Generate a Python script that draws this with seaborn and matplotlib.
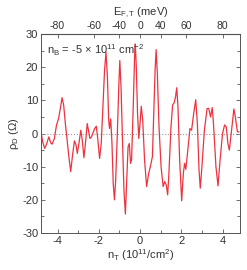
import numpy as np
import matplotlib
matplotlib.use('Agg')
import matplotlib.pyplot as plt
import seaborn as sns
from matplotlib.ticker import MultipleLocator

# data
n_T = [-4.80, -4.72, -4.62, -4.52, -4.42, -4.33, -4.26, -4.15, -4.05, -3.95,
       -3.85, -3.78, -3.70, -3.62, -3.55, -3.45, -3.36, -3.28, -3.18, -3.10,
       -3.04, -2.95, -2.87, -2.80, -2.72, -2.63, -2.56, -2.50, -2.43, -2.35,
       -2.20, -2.12, -2.05, -1.96, -1.88, -1.80, -1.72, -1.65, -1.58, -1.52,
       -1.48, -1.42, -1.36, -1.30, -1.24, -1.18, -1.10, -1.03, -0.98, -0.92,
       -0.85, -0.78, -0.71, -0.65, -0.58, -0.52, -0.46, -0.41, -0.33, -0.26,
       -0.23, -0.18, -0.12, -0.06, 0.00, 0.06, 0.13, 0.22, 0.32, 0.42,
       0.50, 0.60, 0.66, 0.73, 0.78, 0.84, 0.92, 1.02, 1.12, 1.20,
       1.27, 1.34, 1.40, 1.50, 1.58, 1.65, 1.72, 1.78, 1.84, 1.92,
       2.02, 2.10, 2.16, 2.22, 2.30, 2.42, 2.50, 2.60, 2.70, 2.78,
       2.86, 2.92, 3.00, 3.12, 3.25, 3.33, 3.42, 3.50, 3.56, 3.68,
       3.78, 3.88, 4.00, 4.10, 4.18, 4.26, 4.33, 4.42, 4.55, 4.62,
       4.72, 4.80]
rho_D = [0.5, -2.5, -4.5, -3.0, -1.0, -2.8, -3.2, -1.5, 2.5, 4.5,
         8.0, 10.8, 8.5, 3.0, -1.0, -7.0, -11.5, -7.0, -2.2, -3.5,
         -6.0, -2.5, 1.0, -2.0, -7.3, -2.0, 3.0, 1.0, -1.5, -1.0,
         1.5, 2.2, -1.5, -7.5, -3.0, 8.0, 19.0, 24.5, 17.0, 4.0,
         1.5, 4.4, -3.0, -15.0, -20.0, -14.0, 0.0, 14.0, 22.0, 14.0,
         -2.0, -17.0, -24.3, -15.0, -4.0, -3.0, -9.0, -8.0, 8.0, 24.0,
         27.0, 20.0, 6.0, -1.5, 3.0, 8.2, 4.0, -8.0, -16.0, -12.0,
         -10.0, -7.0, 5.0, 19.0, 25.3, 18.0, 2.0, -10.0, -16.0, -14.5,
         -15.5, -18.5, -12.0, 2.0, 8.6, 9.2, 11.0, 13.8, 8.0, -8.0,
         -20.3, -12.0, -9.0, -10.8, -6.0, 1.5, 1.0, 6.0, 10.2, 3.0,
         -11.0, -16.5, -10.0, 1.0, 7.5, 7.6, 5.0, 7.8, 3.0, -10.0,
         -15.8, -8.0, 0.0, 2.6, 2.0, -3.0, -5.0, 0.0, 7.4, 5.0,
         0.5, 0.5]
E_ticks = [-80, -60, -40, 0, 40, 60, 80]

sns.set_style('ticks')
plt.rcParams['font.family'] = ['Liberation Sans', 'DejaVu Sans']
plt.rcParams['font.size'] = 8
plt.rcParams['axes.unicode_minus'] = False
plt.rcParams['text.color'] = '#333333'
plt.rcParams['axes.labelcolor'] = '#333333'
plt.rcParams['xtick.color'] = '#555555'
plt.rcParams['ytick.color'] = '#555555'
plt.rcParams['xtick.labelcolor'] = '#333333'
plt.rcParams['ytick.labelcolor'] = '#333333'
plt.rcParams['mathtext.fontset'] = 'custom'
plt.rcParams['mathtext.rm'] = 'Liberation Sans'
plt.rcParams['mathtext.it'] = 'Liberation Sans'

fig = plt.figure(figsize=(2.47, 2.70), dpi=100)
ax = fig.add_axes([0.166, 0.137, 0.806, 0.737])

ax.axhline(0, color='#999999', linestyle=':', linewidth=0.8)
sns.lineplot(x=n_T, y=rho_D, ax=ax, color='#ee3340', linewidth=0.9,
             sort=False, estimator=None)

ax.set_xlim(-4.8, 4.85)
ax.set_ylim(-30, 30)
ax.xaxis.set_major_locator(MultipleLocator(2))
ax.xaxis.set_minor_locator(MultipleLocator(1))
ax.yaxis.set_major_locator(MultipleLocator(10))
ax.yaxis.set_minor_locator(MultipleLocator(5))
ax.tick_params(which='both', direction='in', right=True, top=False)
ax.tick_params(which='major', length=3, width=0.6, labelsize=8, pad=2)
ax.tick_params(which='minor', length=2, width=0.6)
for s in ax.spines.values():
    s.set_color('#555555')
    s.set_linewidth(0.7)

ax.set_xlabel(r'n$_\mathregular{T}$ (10$^\mathregular{11}$/cm$^\mathregular{2}$)',
              fontsize=8, labelpad=1)
ax.set_ylabel(r'$\rho_\mathregular{D}$ ($\Omega$)', fontsize=8, labelpad=1)

a = 40.0
def n2E(n):
    n = np.asarray(n, dtype=float)
    return np.sign(n) * a * np.sqrt(np.abs(n))

def E2n(E):
    E = np.asarray(E, dtype=float)
    return np.sign(E) * (E / a) ** 2

top = ax.secondary_xaxis('top', functions=(n2E, E2n))
top.set_xticks(E_ticks)
top.tick_params(direction='in', length=3, width=0.6, labelsize=7.5, pad=2)
top.set_xlabel(r'E$_\mathregular{F,T}$ (meV)', fontsize=8, labelpad=4)

ax.text(0.03, 0.96, r'n$_\mathregular{B}$ = -5 $\times$ 10$^\mathregular{11}$ cm$^\mathregular{-2}$',
        transform=ax.transAxes, ha='left', va='top', fontsize=8)

plt.savefig('out.png', dpi=100)
plt.close()
